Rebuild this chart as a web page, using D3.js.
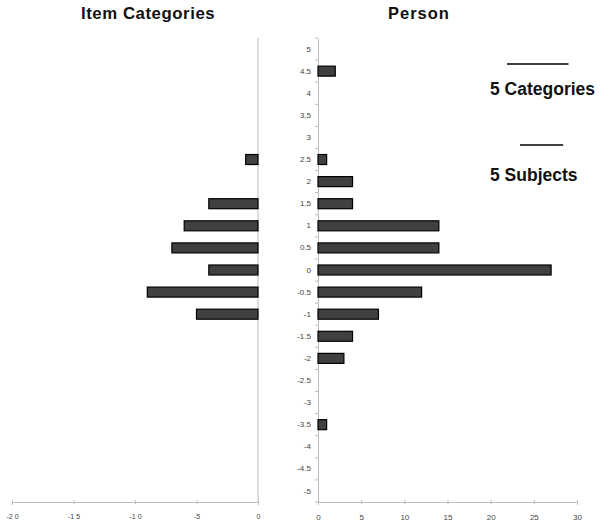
<!DOCTYPE html>
<html><head><meta charset="utf-8">
<script src="https://cdn.jsdelivr.net/npm/d3@7"></script>
<style>body{margin:0;background:#fff;} svg{display:block;font-family:"Liberation Sans",Arial,sans-serif;}</style>
</head><body>
<svg id="c" width="600" height="526"></svg>
<script>
const levels = ["5","4.5","4","3.5","3","2.5","2","1.5","1","0.5","0","-0.5","-1","-1.5","-2","-2.5","-3","-3.5","-4","-4.5","-5"];
const itemLevels = ["2.5","1.5","1","0.5","0","-0.5","-1"];
const itemCounts = [-1,-4,-6,-7,-4,-9,-5];
const personLevels = ["4.5","2.5","2","1.5","1","0.5","0","-0.5","-1","-1.5","-2","-3.5"];
const personCounts = [2,1,4,4,14,14,27,12,7,4,3,1];
const leftTicks = [-20,-15,-10,-5,0];
const rightTicks = [0,5,10,15,20,25,30];

const svg = d3.select("#c");
const yTop = 38, yBot = 502;
const y = d3.scaleBand().domain(levels).range([yTop, yBot]);
const xL = d3.scaleLinear().domain([-20,0]).range([12,258]);
const xR = d3.scaleLinear().domain([0,30]).range([318,577]);
const bh = 10;
const axisCol = "#bdbdbd";

// Left chart
const gL = svg.append("g");
gL.append("line").attr("x1",xL(0)).attr("x2",xL(0)).attr("y1",yTop).attr("y2",yBot).attr("stroke",axisCol);
const axL = gL.append("g").attr("transform",`translate(0,${yBot})`)
  .call(d3.axisBottom(xL).tickValues(leftTicks).tickSize(3).tickFormat(d=>String(d).split("").join(" ").replace("- ","-")));
axL.select(".domain").attr("stroke",axisCol);
axL.selectAll(".tick line").attr("stroke",axisCol).attr("y1",-2).attr("y2",2);
axL.selectAll("text").attr("font-size",7).attr("fill","#444").attr("dy",0).attr("y",17).attr("font-family","Liberation Sans, Arial, sans-serif");
gL.selectAll("rect").data(itemLevels.map((l,i)=>({l,v:itemCounts[i]}))).join("rect")
  .attr("x",d=>xL(d.v)).attr("width",d=>xL(0)-xL(d.v))
  .attr("y",d=>y(d.l)+y.bandwidth()/2-bh/2).attr("height",bh)
  .attr("fill","#404040").attr("stroke","#000").attr("stroke-width",1.2);

// Right chart
const gR = svg.append("g");
const axY = gR.append("g").attr("transform",`translate(${xR(0)},0)`)
  .call(d3.axisLeft(y).tickSize(0).tickPadding(7));
axY.select(".domain").attr("stroke",axisCol);
axY.selectAll("text").attr("font-size",8).attr("fill","#444").attr("font-family","Liberation Sans, Arial, sans-serif");
gR.selectAll("line.bt").data(levels.concat(["end"])).join("line").attr("class","bt")
  .attr("x1",xR(0)-3).attr("x2",xR(0))
  .attr("y1",(d,i)=>yTop+i*y.step()).attr("y2",(d,i)=>yTop+i*y.step()).attr("stroke",axisCol);
const axX = gR.append("g").attr("transform",`translate(0,${yBot})`)
  .call(d3.axisBottom(xR).tickValues(rightTicks).tickSize(3));
axX.select(".domain").attr("stroke",axisCol);
axX.selectAll(".tick line").attr("stroke",axisCol).attr("y1",-2).attr("y2",2);
axX.selectAll("text").attr("font-size",8).attr("fill","#444").attr("dy",0).attr("y",18).attr("font-family","Liberation Sans, Arial, sans-serif");
gR.selectAll("rect").data(personLevels.map((l,i)=>({l,v:personCounts[i]}))).join("rect")
  .attr("x",xR(0)).attr("width",d=>xR(d.v)-xR(0))
  .attr("y",d=>y(d.l)+y.bandwidth()/2-bh/2).attr("height",bh)
  .attr("fill","#404040").attr("stroke","#000").attr("stroke-width",1.2);

// Titles
svg.append("text").attr("x",81).attr("y",19).attr("font-weight","bold").attr("font-size",16.8).attr("letter-spacing",0.55).attr("fill","#111").text("Item Categories");
svg.append("text").attr("x",388).attr("y",18.5).attr("font-weight","bold").attr("font-size",16.5).attr("letter-spacing",1).attr("fill","#111").text("Person");

// Legend scale bars
const l1x = 507, l2x = 520;
svg.append("line").attr("x1",l1x).attr("x2",l1x + (xL(0)-xL(-5))).attr("y1",64).attr("y2",64).attr("stroke","#000").attr("stroke-width",1.3);
svg.append("text").attr("x",490).attr("y",95).attr("font-weight","bold").attr("font-size",17.5).attr("fill","#111").text("5 Categories");
svg.append("line").attr("x1",l2x).attr("x2",l2x + (xR(5)-xR(0))).attr("y1",145).attr("y2",145).attr("stroke","#000").attr("stroke-width",1.3);
svg.append("text").attr("x",490).attr("y",181).attr("font-weight","bold").attr("font-size",17.5).attr("fill","#111").text("5 Subjects");
</script>
</body></html>
